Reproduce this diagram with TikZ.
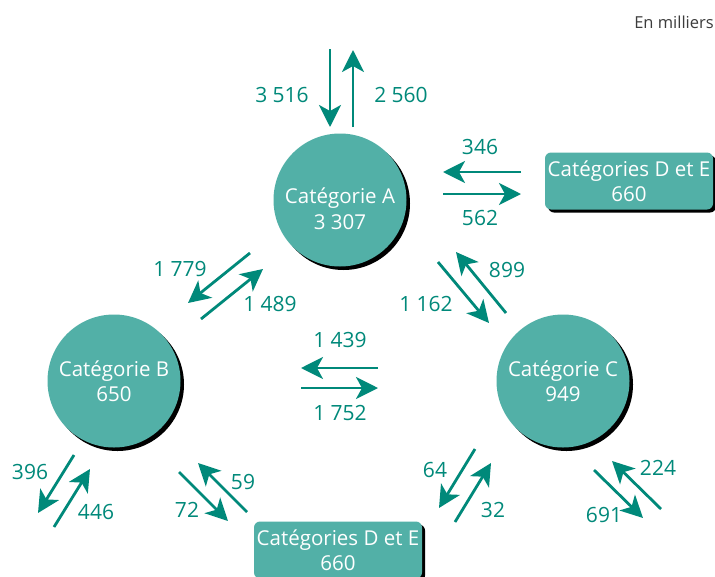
\documentclass[tikz,border=0pt]{standalone}
\usepackage{fontspec}
\setmainfont{Open Sans}
\usetikzlibrary{arrows.meta,shadows}
\definecolor{teal1}{RGB}{0,137,122}
\definecolor{tealfill}{RGB}{82,176,167}
\definecolor{greytxt}{RGB}{60,60,60}
\begin{document}
\begin{tikzpicture}[x=1pt,y=-1pt,
  catcirc/.style={circle,fill=tealfill,minimum size=133pt,inner sep=0pt,text=white,align=center,font=\fontsize{20.5}{25}\selectfont,
    drop shadow={shadow xshift=3.5pt,shadow yshift=-3.5pt,opacity=1,fill=black}},
  cattext/.style={text=white,align=center,inner sep=0pt,font=\fontsize{20.5}{26}\selectfont},
  catbox/.style={rectangle,rounded corners=6pt,fill=tealfill,text=white,align=center,font=\fontsize{20.5}{25}\selectfont,
    minimum width=168pt,minimum height=57pt,inner sep=0pt,
    drop shadow={shadow xshift=3pt,shadow yshift=-3pt,opacity=1,fill=black}},
  flow/.style={draw=teal1,line width=2.8pt,-{Stealth[length=22pt,width=22pt,inset=6pt]}},
  num/.style={text=teal1,font=\fontsize{21}{24}\selectfont,inner sep=0pt}]
\useasboundingbox (0,0) rectangle (715,576);
\fill[white] (0,0) rectangle (715,576);

\node[catcirc] (A) at (340,200) {};
\node[cattext] (At) at (340,209) {Catégorie A\\3 307};
\node[catcirc] (B) at (114,381) {Catégorie B\\650};
\node[catcirc] (C) at (563,381) {Catégorie C\\949};
\node[catbox] (DE1) at (629,181) {Catégories D et E\\660};
\node[catbox] (DE2) at (338,550) {Catégories D et E\\660};

\node[text=greytxt,font=\fontsize{16.5}{18}\selectfont,inner sep=0pt] (unit) at (674,22) {En milliers};

% top pair
\coordinate (t1s) at (330,49); \coordinate (t1e) at (330,127);
\coordinate (t2s) at (353,127); \coordinate (t2e) at (353,50);
\draw[flow] (t1s) -- (t1e);
\draw[flow] (t2s) -- (t2e);
\node[num] (l3516) at (282,95) {3 516};
\node[num] (l2560) at (401,95) {2 560};

% right pair A - DE1
\coordinate (r1s) at (521,172); \coordinate (r1e) at (443,172);
\coordinate (r2s) at (443,194); \coordinate (r2e) at (521,194);
\draw[flow] (r1s) -- (r1e);
\draw[flow] (r2s) -- (r2e);
\node[num] (l346) at (480,147) {346};
\node[num] (l562) at (480,218) {562};

% A - B
\coordinate (ab1s) at (250,253); \coordinate (ab1e) at (188,303);
\coordinate (ab2s) at (201,319); \coordinate (ab2e) at (263,269);
\draw[flow] (ab1s) -- (ab1e);
\draw[flow] (ab2s) -- (ab2e);
\node[num] (l1779) at (180,269) {1 779};
\node[num] (l1489) at (270,304) {1 489};

% A - C
\coordinate (ac1s) at (438,262); \coordinate (ac1e) at (489,323);
\coordinate (ac2s) at (506,313); \coordinate (ac2e) at (456,252);
\draw[flow] (ac1s) -- (ac1e);
\draw[flow] (ac2s) -- (ac2e);
\node[num] (l899) at (507,270) {899};
\node[num] (l1162) at (426,304) {1 162};

% B - C
\coordinate (bc1s) at (378,368); \coordinate (bc1e) at (301,368);
\coordinate (bc2s) at (301,388); \coordinate (bc2e) at (378,388);
\draw[flow] (bc1s) -- (bc1e);
\draw[flow] (bc2s) -- (bc2e);
\node[num] (l1439) at (340,340) {1 439};
\node[num] (l1752) at (340,413) {1 752};

% B outside
\coordinate (bo1s) at (74,455); \coordinate (bo1e) at (38,513);
\coordinate (bo2s) at (54,527); \coordinate (bo2e) at (90,469);
\draw[flow] (bo1s) -- (bo1e);
\draw[flow] (bo2s) -- (bo2e);
\node[num] (l396) at (30,472) {396};
\node[num] (l446) at (96,512) {446};

% B - DE2
\coordinate (bd1s) at (179,472); \coordinate (bd1e) at (228,521);
\coordinate (bd2s) at (247,512); \coordinate (bd2e) at (198,463);
\draw[flow] (bd1s) -- (bd1e);
\draw[flow] (bd2s) -- (bd2e);
\node[num] (l72) at (187,510) {72};
\node[num] (l59) at (243,482) {59};

% C - DE2
\coordinate (cd1s) at (475,449); \coordinate (cd1e) at (439,508);
\coordinate (cd2s) at (455,522); \coordinate (cd2e) at (491,463);
\draw[flow] (cd1s) -- (cd1e);
\draw[flow] (cd2s) -- (cd2e);
\node[num] (l64) at (435,470) {64};
\node[num] (l32) at (493,510) {32};

% C outside
\coordinate (co1s) at (594,470); \coordinate (co1e) at (643,518);
\coordinate (co2s) at (661,509); \coordinate (co2e) at (612,461);
\draw[flow] (co1s) -- (co1e);
\draw[flow] (co2s) -- (co2e);
\node[num] (l224) at (658,468) {224};
\node[num] (l691) at (604,515) {691};
\end{tikzpicture}
\end{document}
